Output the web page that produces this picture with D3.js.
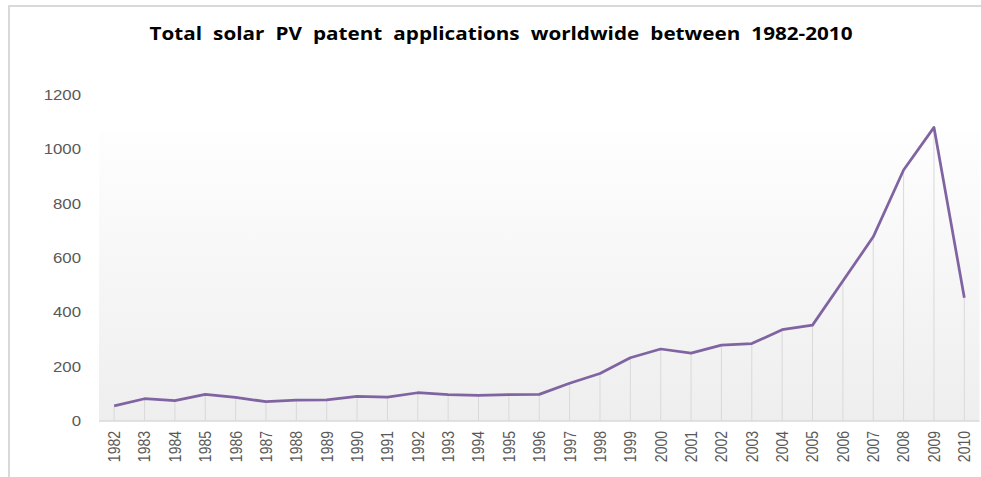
<!DOCTYPE html>
<html><head><meta charset="utf-8">
<script src="https://cdn.jsdelivr.net/npm/d3@7"></script>
<style>body{margin:0;background:#fff}svg{display:block}</style>
</head><body><svg id="c" width="981" height="477"></svg>
<script>
const years = ["1982","1983","1984","1985","1986","1987","1988","1989","1990","1991","1992","1993","1994","1995","1996","1997","1998","1999","2000","2001","2002","2003","2004","2005","2006","2007","2008","2009","2010"];
const applications = [56,82,75,98,87,71,77,78,91,88,104,97,94,97,98,139,175,233,265,250,279,285,336,353,515,678,924,1081,454];
const yTicks = [0,200,400,600,800,1000,1200];
const titleText = "Total solar PV patent applications worldwide between 1982-2010";

const svg = d3.select("#c");
const L = 99, R = 979.5, T = 95, B = 421;
const x = d3.scaleBand().domain(years).range([L, R]);
const y = d3.scaleLinear().domain([0, 1200]).range([B, T]);
const cx = d => x(d) + x.bandwidth() / 2;

// frame (top and left edges only visible)
svg.append("path").attr("d", "M9,477V6H981")
  .attr("fill", "none").attr("stroke", "#d9d9d9").attr("stroke-width", 2);

// gradient plot area
const defs = svg.append("defs");
const g = defs.append("linearGradient").attr("id", "pg").attr("x1", 0).attr("y1", 0).attr("x2", 0).attr("y2", 1);
g.append("stop").attr("offset", "0").attr("stop-color", "#fefefe");
g.append("stop").attr("offset", "1").attr("stop-color", "#eeeeee");
svg.append("rect").attr("x", L).attr("y", 132).attr("width", R - L).attr("height", B - 132).attr("fill", "url(#pg)");

// title
svg.append("text").attr("x", 501).attr("y", 40).attr("text-anchor", "middle")
  .attr("font-family", "'Open Sans','Liberation Sans',Arial,sans-serif")
  .attr("font-weight", "bold").attr("font-size", 18).attr("fill", "#000")
  .attr("word-spacing", 5)
  .attr("textLength", 703).attr("lengthAdjust", "spacingAndGlyphs")
  .text(titleText);

// drop lines
svg.append("g").selectAll("line").data(years).join("line")
  .attr("x1", d => cx(d)).attr("x2", d => cx(d))
  .attr("y1", (d, i) => y(applications[i])).attr("y2", B)
  .attr("stroke", "#d9d9d9").attr("stroke-width", 1);

// baseline
svg.append("line").attr("x1", L).attr("x2", R).attr("y1", B).attr("y2", B)
  .attr("stroke", "#d9d9d9").attr("stroke-width", 1.5);

// y labels
const yl = svg.append("g");
yTicks.forEach(t => {
  yl.append("g").attr("transform", `translate(81,${y(t)}) scale(1.2,1)`)
    .append("text").attr("text-anchor", "end").attr("dy", "0.35em")
    .attr("font-family", "'Liberation Sans',Arial,sans-serif").attr("font-size", 14)
    .attr("fill", "#595959").text(t);
});

// x labels
const xl = svg.append("g");
years.forEach(d => {
  xl.append("g").attr("transform", `translate(${cx(d)},431) scale(1.2,1) rotate(-90)`)
    .append("text").attr("text-anchor", "end").attr("dy", "0.35em")
    .attr("font-family", "'Liberation Sans',Arial,sans-serif").attr("font-size", 14)
    .attr("fill", "#595959").text(d);
});

// line
const line = d3.line().x((d, i) => cx(years[i])).y(d => y(d));
svg.append("path").datum(applications).attr("d", line)
  .attr("fill", "none").attr("stroke", "#8064a2").attr("stroke-width", 2.75)
  .attr("stroke-linejoin", "round");
</script></body></html>
